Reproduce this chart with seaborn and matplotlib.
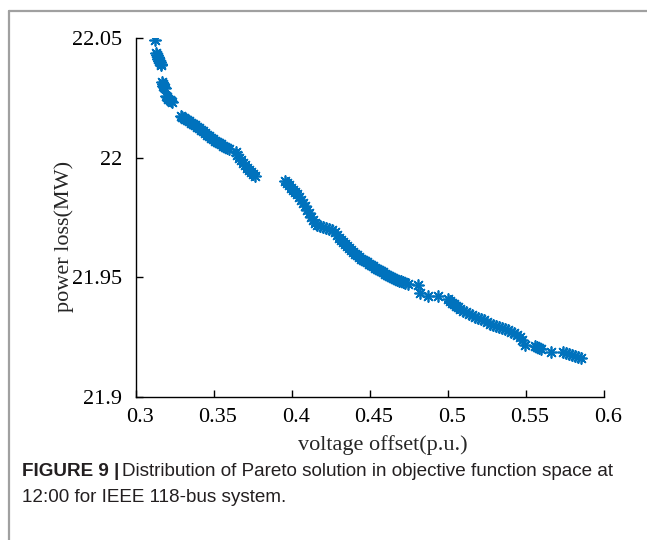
import matplotlib
matplotlib.use("Agg")
import matplotlib.pyplot as plt
import seaborn as sns
import pandas as pd
from matplotlib.lines import Line2D
from matplotlib.transforms import ScaledTranslation

voltage_offset = [
    0.3122, 0.3128, 0.3135, 0.3141, 0.3141, 0.3147, 0.3154, 0.3160, 0.3160,
    0.3167, 0.3173, 0.3173, 0.3179, 0.3186,
    0.3192, 0.3199, 0.3205, 0.3218, 0.3224, 0.3231,
    0.3288, 0.3295, 0.3308, 0.3314, 0.3327, 0.3340, 0.3353, 0.3365, 0.3378, 0.3391,
    0.3404, 0.3417, 0.3429, 0.3442, 0.3455, 0.3468, 0.3481, 0.3494, 0.3506, 0.3519,
    0.3532, 0.3545, 0.3558, 0.3571, 0.3583, 0.3596,
    0.3641, 0.3647, 0.3660, 0.3673, 0.3686, 0.3699, 0.3712, 0.3724, 0.3737, 0.3750, 0.3763,
    0.3955, 0.3968, 0.3981, 0.3994, 0.4006, 0.4019, 0.4032, 0.4045, 0.4058, 0.4071,
    0.4083, 0.4096, 0.4109, 0.4122, 0.4135, 0.4147, 0.4160, 0.4179, 0.4199, 0.4218,
    0.4237, 0.4256, 0.4276, 0.4288, 0.4301, 0.4314, 0.4327, 0.4340, 0.4353, 0.4365,
    0.4378, 0.4391, 0.4404, 0.4417, 0.4429, 0.4442, 0.4455, 0.4468, 0.4481, 0.4494,
    0.4506, 0.4519, 0.4532, 0.4545, 0.4558, 0.4571, 0.4583, 0.4596, 0.4609, 0.4622,
    0.4635, 0.4647, 0.4660, 0.4673, 0.4686, 0.4699, 0.4712, 0.4724, 0.4744,
    0.4808, 0.4821, 0.4872, 0.4936, 0.5000,
    0.5013, 0.5026, 0.5038, 0.5051, 0.5064, 0.5077, 0.5096, 0.5115, 0.5135, 0.5154,
    0.5173, 0.5192, 0.5212, 0.5231, 0.5250, 0.5269, 0.5288, 0.5308, 0.5327, 0.5346,
    0.5365, 0.5385, 0.5404, 0.5423, 0.5442, 0.5462, 0.5474, 0.5494,
    0.5558, 0.5571, 0.5583, 0.5596, 0.5660,
    0.5737, 0.5756, 0.5776, 0.5795, 0.5814, 0.5833, 0.5853,
]
power_loss = [
    22.0492, 22.0437, 22.0429, 22.0421, 22.0412, 22.0404, 22.0400, 22.0391, 22.0387,
    22.0316, 22.0308, 22.0299, 22.0295, 22.0291,
    22.0258, 22.0253, 22.0245, 22.0241, 22.0237, 22.0233,
    22.0174, 22.0170, 22.0166, 22.0162, 22.0157, 22.0153, 22.0145, 22.0141, 22.0136, 22.0128,
    22.0124, 22.0116, 22.0111, 22.0103, 22.0095, 22.0091, 22.0082, 22.0078, 22.0070, 22.0065,
    22.0061, 22.0057, 22.0049, 22.0045, 22.0040, 22.0036,
    22.0024, 22.0011, 21.9999, 21.9990, 21.9978, 21.9969, 21.9957, 21.9949, 21.9940, 21.9932, 21.9924,
    21.9902, 21.9894, 21.9886, 21.9873, 21.9865, 21.9857, 21.9848, 21.9836, 21.9823, 21.9811,
    21.9798, 21.9781, 21.9769, 21.9752, 21.9740, 21.9727, 21.9719, 21.9714, 21.9710, 21.9706,
    21.9702, 21.9698, 21.9689, 21.9677, 21.9664, 21.9656, 21.9648, 21.9639, 21.9631, 21.9623,
    21.9614, 21.9606, 21.9598, 21.9593, 21.9585, 21.9577, 21.9572, 21.9568, 21.9564, 21.9556,
    21.9552, 21.9547, 21.9539, 21.9535, 21.9531, 21.9526, 21.9522, 21.9514, 21.9510, 21.9506,
    21.9501, 21.9497, 21.9493, 21.9489, 21.9485, 21.9485, 21.9481, 21.9476, 21.9472,
    21.9468, 21.9435, 21.9422, 21.9422, 21.9409,
    21.9401, 21.9393, 21.9389, 21.9380, 21.9376, 21.9368, 21.9359, 21.9355, 21.9347, 21.9343,
    21.9334, 21.9330, 21.9326, 21.9322, 21.9313, 21.9305, 21.9301, 21.9297, 21.9292, 21.9288,
    21.9284, 21.9280, 21.9272, 21.9267, 21.9259, 21.9251, 21.9238, 21.9217,
    21.9213, 21.9209, 21.9205, 21.9201, 21.9188,
    21.9188, 21.9184, 21.9180, 21.9175, 21.9171, 21.9167, 21.9163,
]
x_ticks = [0.3, 0.35, 0.4, 0.45, 0.5, 0.55, 0.6]
x_tick_labels = ["0.3", "0.35", "0.4", "0.45", "0.5", "0.55", "0.6"]
y_ticks = [21.9, 21.95, 22.0, 22.05]
y_tick_labels = ["21.9", "21.95", "22", "22.05"]

df = pd.DataFrame({"voltage offset": voltage_offset, "power loss": power_loss})

sns.set_style("ticks")
plt.rcParams["font.family"] = ["Liberation Serif", "DejaVu Serif"]

W, H = 647, 540
fig = plt.figure(figsize=(W / 100, H / 100), dpi=100)
ax = fig.add_axes([136 / W, 1 - 397 / H, (604 - 136) / W, (397 - 38) / H])

sns.scatterplot(data=df, x="voltage offset", y="power loss", ax=ax,
                marker=(8, 2, 0), color="#0072BD", s=62, linewidth=1.25,
                edgecolor="#0072BD", legend=False)

ax.set_xlim(0.3, 0.6)
ax.set_ylim(21.9, 22.05)
ax.set_xticks(x_ticks)
ax.set_xticklabels(x_tick_labels)
ax.set_yticks(y_ticks)
ax.set_yticklabels(y_tick_labels)
for s in ["top", "right"]:
    ax.spines[s].set_visible(False)
for s in ["left", "bottom"]:
    ax.spines[s].set_linewidth(1.0)
    ax.spines[s].set_color("black")
ax.tick_params(direction="in", length=5, width=1.0, labelsize=16, colors="black")
ax.tick_params(axis="y", pad=10)
ax.tick_params(axis="x", pad=8)
shift = ScaledTranslation(4 / 100, 0, fig.dpi_scale_trans)
for lab in ax.get_xticklabels():
    lab.set_transform(lab.get_transform() + shift)

ax.set_xlabel("voltage offset(p.u.)", fontsize=16)
ax.set_ylabel("power loss(MW)", fontsize=16)
ax.xaxis.set_label_coords((383 - 136) / 468, -0.105)
ax.yaxis.set_label_coords(-0.1325, 0.448)

# page frame
fig.add_artist(Line2D([9 / W, 1.0], [1 - 11 / H, 1 - 11 / H], color="#a0a0a0", lw=1.6,
                      transform=fig.transFigure))
fig.add_artist(Line2D([9 / W, 9 / W], [1 - 11 / H, 0.0], color="#a0a0a0", lw=1.6,
                      transform=fig.transFigure))

# caption
cap_font = ["Liberation Sans", "DejaVu Sans"]
cap_size = 13.6
fig.canvas.draw()
r = fig.canvas.get_renderer()
t1 = fig.text(22 / W, 1 - 471 / H, "FIGURE 9 |", fontsize=cap_size, fontweight="bold",
              family=cap_font, va="center", ha="left", color="#231f20")
bb = t1.get_window_extent(renderer=r)
fig.text(bb.x1 / W + 3 / W, 1 - 471 / H,
         "Distribution of Pareto solution in objective function space at",
         fontsize=cap_size, family=cap_font, va="center", ha="left", color="#231f20")
fig.text(22 / W, 1 - 497 / H, "12:00 for IEEE 118-bus system.", fontsize=cap_size,
         family=cap_font, va="center", ha="left", color="#231f20")

fig.savefig("out.png", dpi=100)
